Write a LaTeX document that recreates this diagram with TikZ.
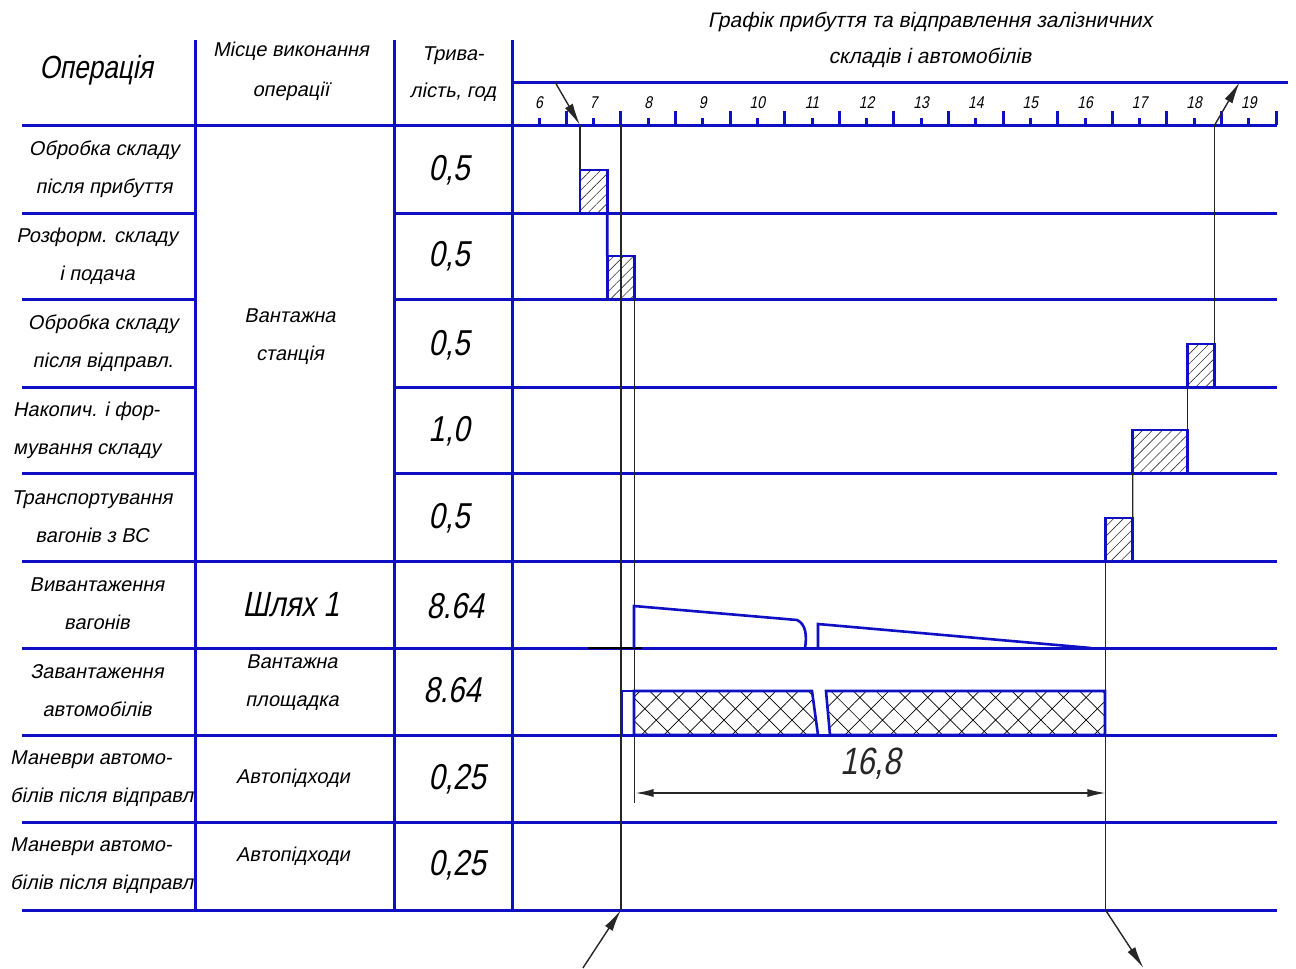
\documentclass[tikz,border=0pt]{standalone}
\usepackage{fontspec}
\setmainfont{Liberation Sans}[FakeSlant=0.2]
\newfontfamily\narrow{Liberation Sans}[FakeSlant=0.2,FakeStretch=0.82]
\usetikzlibrary{arrows.meta,patterns.meta,calc}
\definecolor{lineblue}{RGB}{15,15,195}
\newcommand\fsz[2]{\fontsize{#1}{#2}\selectfont}
\newcommand\hx[1]{539+54.6*(#1-6)}
\begin{document}
\begin{tikzpicture}[x=1pt,y=-1pt,
    grid/.style={lineblue,line width=3pt},
    guide/.style={black!85,line width=1.4pt},
    pointer/.style={guide,-{Latex[length=22pt,width=9pt]}},
    bar/.style={draw=lineblue,line width=2.6pt,inner sep=0pt,outer sep=0pt,
      minimum height=43pt,anchor=south west,
      pattern={Lines[angle=45,distance=7pt,line width=.6pt]},pattern color=black!80},
    cell/.style={align=center,inner sep=0pt,font=\fsz{20}{38}},
    val/.style={inner sep=0pt,font=\narrow\fsz{36}{36}}]
  \useasboundingbox (0,0) rectangle (1296,969);
  % table
  \foreach \x in {195,394,512} \draw[grid] (\x,40) -- (\x,910);
  \draw[grid] (512,82) -- (1288,82);
  \draw[grid] (22,125) -- (1277,125);
  \foreach \y in {213,299,387,473} {
    \draw[grid] (22,\y) -- (195,\y);
    \draw[grid] (394,\y) -- (1277,\y);
  }
  \foreach \y in {561,648,735,822,910} \draw[grid] (22,\y) -- (1277,\y);
  % time axis
  \foreach \h in {6,...,19} {
    \draw[grid] ({\hx{\h}},125) -- ({\hx{\h}},118);
    \draw[grid] ({\hx{\h+.5}},125) -- ({\hx{\h+.5}},111);
    \node[font=\narrow\fsz{17}{17}] (t\h) at ({\hx{\h}},103) {\h};
  }
  \coordinate (axis) at (512,125);
  % headers
  \node[font=\narrow\fsz{32}{32}] (hop) at (96,70) {Операція};
  \node[cell,font=\fsz{20}{40}] (hplace) at (291,71) {Місце виконання\\операції};
  \node[cell,font=\fsz{20}{37}] (htime) at (453,74) {Трива-\\лість, год};
  \node[cell,font=\fsz{21}{36}] (htitle) at (930,40) {Графік прибуття та відправлення залізничних\\складів і автомобілів};
  % operations
  \node[cell] (r1) at (104,169) {Обробка складу\\після прибуття};
  \node[cell] (r2) at (97,256) {Розформ. складу\\і подача};
  \node[cell] (r3) at (103,343) {Обробка складу\\після відправл.};
  \node[cell,align=left,anchor=west] (r4) at (13,430) {Накопич. і фор-\\мування складу};
  \node[cell] (r5) at (92,517) {Транспортування\\вагонів з ВС};
  \node[cell] (r6) at (97,604) {Вивантаження\\вагонів};
  \node[cell] (r7) at (97,691) {Завантаження\\автомобілів};
  \begin{scope}
    \clip (0,735) rectangle (194,910);
    \node[cell,align=left,anchor=west] (r8) at (10,779) {Маневри автомо-\\білів після відправл.};
    \node[cell,align=left,anchor=west] (r9) at (10,866) {Маневри автомо-\\білів після відправл.};
  \end{scope}
  % places
  \node[cell] (p1) at (290,337) {Вантажна\\станція};
  \node[cell,font=\narrow\fsz{35}{35}] (p2) at (291,605) {Шлях 1};
  \node[cell] (p3) at (292,683) {Вантажна\\площадка};
  \node[cell] (p4) at (293,778) {Автопідходи};
  \node[cell] (p5) at (293,856) {Автопідходи};
  % durations
  \node[val] (v1) at (449,170) {0,5};
  \node[val] (v2) at (449,256) {0,5};
  \node[val] (v3) at (449,345) {0,5};
  \node[val] (v4) at (449,431) {1,0};
  \node[val] (v5) at (449,518) {0,5};
  \node[val] (v6) at (455,606) {8.64};
  \node[val] (v7) at (452,690) {8.64};
  \node[val] (v8) at (457,779) {0,25};
  \node[val] (v9) at (457,865) {0,25};
  % station operations
  \node[bar,minimum width=27.3pt] (op1) at ({\hx{6.75}},213) {};
  \node[bar,minimum width=27.3pt] (op2) at ({\hx{7.25}},299) {};
  \node[bar,minimum width=27.3pt] (op3) at ({\hx{17.875}},387) {};
  \node[bar,minimum width=54.6pt] (op4) at ({\hx{16.875}},473) {};
  \node[bar,minimum width=27.3pt] (op5) at ({\hx{16.375}},561) {};
  \coordinate (in) at (555,82);
  \draw[pointer] (in) -- (op1.north west |- axis);
  \draw[guide] (op1.north west |- axis) -- (op1.north west);
  \draw[lineblue,line width=2.6pt] (op1.south east) -- (op2.north west);
  \draw[guide] (op3.south west) -- (op4.north east);
  \draw[guide] (op4.south west) -- (op5.north east);
  \draw[guide] (op3.north east) -- (op3.north east |- axis) coordinate (out);
  \draw[pointer] (out) -- ++(25,-43);
  % unloading and loading
  \coordinate (a0) at ({\hx{7.5}},125);
  \coordinate (a1) at ({\hx{7.5}},910);
  \coordinate (dim) at ({\hx{7.75}+1},793);
  \draw[guide] (a0) -- (a1);
  \draw[pointer] ($(a1)+(-38,58)$) -- (a1);
  \draw[guide] (op2.south east) -- (op2.south east |- 0,803);
  \draw[guide] (op5.south west) -- (op5.south west |- a1) coordinate (a2);
  \draw[pointer] (a2) -- ++(38,58);
  \draw[black,line width=2pt] (588,648) -- (642,648);
  \draw[lineblue,line width=2.6pt] (634,648) -- (634,606) -- (797,620)
    .. controls (806,624) and (807,636) .. (805,648);
  \draw[lineblue,line width=2.6pt] (818,648) -- (818,624) -- (1091,648);
  \draw[lineblue,line width=2.6pt] (622,735) -- (622,691) -- (634,691);
  \draw[lineblue,line width=2.6pt,pattern={Hatch[angle=45,distance=16pt,line width=.7pt]}]
    (634,735) -- (634,691) -- (812,691) -- (818,735) -- cycle;
  \draw[lineblue,line width=2.6pt,pattern={Hatch[angle=45,distance=16pt,line width=.7pt]}]
    (826,691) -- (1105,691) -- (1105,735) -- (830,735) -- cycle;
  \draw[guide,{Latex[length=18pt,width=8pt]}-{Latex[length=18pt,width=8pt]}]
    (dim) -- (dim -| a2) node[midway,font=\narrow\fsz{38}{38},above=10pt] (len) {16,8};
\end{tikzpicture}
\end{document}
